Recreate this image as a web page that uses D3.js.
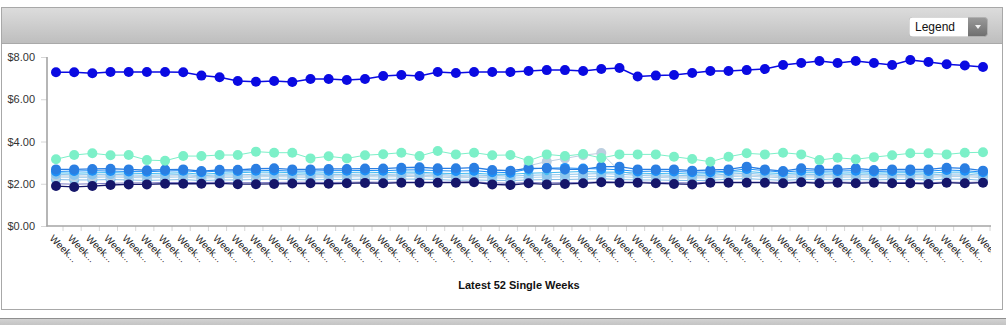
<!DOCTYPE html>
<html>
<head>
<meta charset="utf-8">
<script src="https://cdn.jsdelivr.net/npm/d3@7"></script>
<style>
  html, body { margin: 0; padding: 0; background: #fff; }
  svg { display: block; font-family: "Liberation Sans", Arial, sans-serif; }
</style>
</head>
<body>
<svg id="chart" width="1006" height="325"></svg>
<script>
// Weekly average price per product line, latest 52 single weeks
const weeks = d3.range(1, 53).map(i => `Week ${i}`);
const yTicks = [0, 2, 4, 6, 8];

const premium = [7.28,7.28,7.23,7.29,7.29,7.29,7.29,7.28,7.12,7.04,
  6.86,6.83,6.86,6.82,6.96,6.96,6.91,6.96,7.10,7.15,
  7.10,7.29,7.24,7.29,7.29,7.29,7.34,7.38,7.38,7.34,
  7.43,7.48,7.08,7.12,7.15,7.24,7.34,7.34,7.38,7.43,
  7.62,7.72,7.81,7.72,7.81,7.72,7.62,7.86,7.76,7.66,
  7.60,7.53];
const aqua = [3.16,3.36,3.44,3.35,3.36,3.12,3.09,3.31,3.31,3.36,
  3.36,3.52,3.47,3.47,3.20,3.30,3.20,3.35,3.40,3.47,
  3.31,3.55,3.39,3.47,3.35,3.36,3.09,3.39,3.31,3.41,
  3.22,3.39,3.39,3.39,3.28,3.17,3.04,3.28,3.44,3.39,
  3.47,3.39,3.12,3.23,3.16,3.26,3.35,3.44,3.44,3.39,
  3.47,3.49];
const dodger = [2.68,2.68,2.70,2.71,2.68,2.64,2.67,2.68,2.60,2.66,
  2.66,2.71,2.73,2.68,2.68,2.70,2.70,2.72,2.72,2.76,
  2.78,2.73,2.73,2.76,2.65,2.62,2.73,2.73,2.68,2.68,
  2.81,2.81,2.68,2.68,2.68,2.62,2.65,2.68,2.81,2.68,
  2.60,2.73,2.68,2.68,2.73,2.65,2.68,2.68,2.68,2.76,
  2.73,2.62];
const azure = [2.58,2.60,2.62,2.60,2.58,2.57,2.60,2.62,2.55,2.60,
  2.60,2.62,2.63,2.60,2.60,2.62,2.62,2.63,2.62,2.65,
  2.66,2.62,2.60,2.62,2.55,2.52,2.70,2.74,2.75,2.72,
  2.70,2.66,2.58,2.60,2.58,2.55,2.55,2.60,2.70,2.62,
  2.55,2.62,2.60,2.60,2.62,2.58,2.60,2.60,2.60,2.65,
  2.62,2.55];
const cyan = [2.52,2.50,2.52,2.53,2.50,2.48,2.50,2.52,2.45,2.50,
  2.52,2.55,2.55,2.52,2.50,2.52,2.53,2.55,2.52,2.55,
  2.55,2.50,2.48,2.50,2.45,2.45,2.50,2.52,2.55,2.58,
  2.55,2.55,2.50,2.48,2.50,2.45,2.48,2.55,2.58,2.52,
  2.48,2.52,2.52,2.50,2.52,2.50,2.52,2.52,2.50,2.55,
  2.55,2.48];
const sky = [2.45,2.42,2.44,2.45,2.42,2.40,2.42,2.44,2.38,2.42,
  2.42,2.45,2.46,2.44,2.42,2.44,2.44,2.46,2.44,2.46,
  2.48,2.44,2.40,2.42,2.38,2.36,2.40,2.42,2.44,2.46,
  2.48,2.45,2.40,2.42,2.40,2.38,2.40,2.46,2.50,2.44,
  2.40,2.44,2.44,2.42,2.44,2.42,2.44,2.44,2.42,2.46,
  2.46,2.40];
const steel = [2.38,2.36,2.36,2.38,2.36,2.34,2.36,2.38,2.32,2.36,
  2.36,2.38,2.40,2.38,2.36,2.38,2.38,2.40,2.38,2.40,
  2.40,2.38,2.34,2.36,2.36,2.45,2.85,3.05,3.20,3.35,
  3.45,2.60,2.40,2.36,2.34,2.32,2.34,2.40,2.42,2.38,
  2.34,2.38,2.38,2.36,2.38,2.36,2.38,2.38,2.36,2.40,
  2.40,2.34];
const pale = [2.32,2.30,2.30,2.32,2.30,2.28,2.30,2.32,2.26,2.30,
  2.30,2.33,2.34,2.32,2.30,2.32,2.32,2.34,2.32,2.34,
  2.35,2.32,2.28,2.30,2.28,2.26,2.30,2.32,2.33,2.34,
  2.36,2.33,2.30,2.30,2.28,2.27,2.28,2.34,2.36,2.32,
  2.28,2.32,2.32,2.30,2.32,2.30,2.32,2.32,2.30,2.34,
  2.34,2.28];
const powder = [2.20,2.18,2.18,2.20,2.18,2.16,2.18,2.20,2.15,2.18,
  2.18,2.20,2.22,2.20,2.18,2.20,2.20,2.22,2.20,2.22,
  2.22,2.20,2.16,2.18,2.16,2.15,2.18,2.20,2.20,2.22,
  2.24,2.20,2.18,2.18,2.16,2.15,2.16,2.22,2.24,2.20,
  2.16,2.20,2.20,2.18,2.20,2.18,2.20,2.20,2.18,2.22,
  2.22,2.16];
const slate = [2.00,1.98,2.00,2.02,2.04,2.04,2.06,2.06,2.06,2.07,
  2.05,2.05,2.06,2.07,2.07,2.06,2.07,2.08,2.07,2.08,
  2.08,2.08,2.08,2.09,2.04,2.02,2.06,2.04,2.05,2.06,
  2.09,2.08,2.08,2.06,2.05,2.04,2.08,2.08,2.08,2.08,
  2.06,2.09,2.06,2.08,2.06,2.08,2.06,2.06,2.05,2.08,
  2.06,2.08];
const navy = [1.89,1.85,1.89,1.94,1.97,1.97,2.00,2.00,2.00,2.02,
  1.98,1.98,1.99,2.01,2.02,2.00,2.02,2.04,2.02,2.05,
  2.05,2.05,2.05,2.07,1.97,1.94,2.02,1.97,1.99,2.02,
  2.07,2.05,2.05,2.02,1.99,1.97,2.05,2.05,2.05,2.05,
  2.02,2.07,2.02,2.05,2.02,2.05,2.02,2.02,1.99,2.05,
  2.02,2.05];

// drawing order: back to front
const series = [
  { values: slate,   color: "#7a7ac4", r: 2.5, w: 1 },
  { values: powder,  color: "#82bce6", r: 5,   w: 1 },
  { values: pale,    color: "#a9d1ee", r: 5,   w: 1 },
  { values: steel,   color: "#bccfe0", r: 5,   w: 1 },
  { values: sky,     color: "#8cc6ee", r: 5,   w: 1 },
  { values: cyan,    color: "#45bdf2", r: 2.5, w: 1 },
  { values: azure,   color: "#1e90f8", r: 5,   w: 1 },
  { values: dodger,  color: "#2a7ee2", r: 5,   w: 1.3 },
  { values: navy,    color: "#15166a", r: 5,   w: 1.3 },
  { values: aqua,    color: "#7cf0c8", r: 5,   w: 1 },
  { values: premium, color: "#0a0ae2", r: 5,   w: 1.5 }
];

const svg = d3.select("#chart");
const defs = svg.append("defs");

// panel chrome
const hdr = defs.append("linearGradient").attr("id", "hdr").attr("x1", 0).attr("y1", 0).attr("x2", 0).attr("y2", 1);
hdr.append("stop").attr("offset", "0%").attr("stop-color", "#dcdcdc");
hdr.append("stop").attr("offset", "100%").attr("stop-color", "#bdbdbd");
const btn = defs.append("linearGradient").attr("id", "btn").attr("x1", 0).attr("y1", 0).attr("x2", 0).attr("y2", 1);
btn.append("stop").attr("offset", "0%").attr("stop-color", "#9a9a9a");
btn.append("stop").attr("offset", "100%").attr("stop-color", "#6e6e6e");
const foot = defs.append("linearGradient").attr("id", "foot").attr("x1", 0).attr("y1", 0).attr("x2", 0).attr("y2", 1);
foot.append("stop").attr("offset", "0%").attr("stop-color", "#d4d4d4");
foot.append("stop").attr("offset", "100%").attr("stop-color", "#c4c4c4");

svg.append("rect").attr("x", 1.5).attr("y", 7.5).attr("width", 1001).attr("height", 302)
  .attr("fill", "#fff").attr("stroke", "#a8a8a8");
svg.append("rect").attr("x", 2).attr("y", 8).attr("width", 1000).attr("height", 36).attr("fill", "url(#hdr)");
svg.append("line").attr("x1", 2).attr("x2", 1002).attr("y1", 43.5).attr("y2", 43.5).attr("stroke", "#a9a9a9");
svg.append("rect").attr("x", 0).attr("y", 318).attr("width", 1006).attr("height", 7).attr("fill", "url(#foot)");
svg.append("line").attr("x1", 0).attr("x2", 1006).attr("y1", 318.5).attr("y2", 318.5).attr("stroke", "#8f8f8f");

// legend dropdown
const lg = svg.append("g");
lg.append("rect").attr("x", 909.5).attr("y", 17.5).attr("width", 78).attr("height", 19).attr("rx", 3)
  .attr("fill", "url(#btn)").attr("stroke", "#b0b0b0");
lg.append("path").attr("d", "M912.5,17.5 H968 V36.5 H912.5 a3,3 0 0 1 -3,-3 V20.5 a3,3 0 0 1 3,-3 Z")
  .attr("fill", "#fff");
lg.append("text").attr("x", 915).attr("y", 31).attr("font-size", 12).attr("fill", "#111").text("Legend");
lg.append("path").attr("d", "M975,25 L981,25 L978,29 Z").attr("fill", "#f2f2f2");

// scales
const x = d3.scalePoint().domain(weeks).range([56, 983]);
const y = d3.scaleLinear().domain([0, 8]).range([226, 57]);

// axes
const axisColor = "#a4a4a4";
const yAxis = svg.append("g").attr("transform", "translate(47,0)")
  .call(d3.axisLeft(y).tickValues(yTicks).tickSize(6).tickPadding(6).tickFormat(d3.format("$.2f")));
yAxis.select(".domain").remove();
yAxis.selectAll(".tick line").attr("stroke", "#d6d6d6");
yAxis.selectAll(".tick text").attr("font-size", 11).attr("fill", "#333").attr("font-family", "Liberation Sans, Arial, sans-serif");

const clip = defs.append("clipPath").attr("id", "xclip");
clip.append("rect").attr("x", 41).attr("y", 226).attr("width", 950).attr("height", 60);

const xAxis = svg.append("g").attr("clip-path", "url(#xclip)");
xAxis.selectAll("line.xt").data(weeks).join("line").attr("class", "xt")
  .attr("x1", d => x(d) + 7).attr("x2", d => x(d) + 7)
  .attr("y1", 226).attr("y2", 231).attr("stroke", "#d6d6d6");
xAxis.selectAll("text").data(weeks).join("text")
  .attr("transform", d => `translate(${x(d) - 7},239) rotate(45)`)
  .attr("font-size", 10).attr("fill", "#222")
  .text(d => d.slice(0, 4) + "...");

svg.append("line").attr("x1", 47).attr("x2", 47).attr("y1", 57).attr("y2", 226.5)
  .attr("stroke", axisColor).attr("stroke-width", 1.6);
svg.append("line").attr("x1", 46.5).attr("x2", 991).attr("y1", 226).attr("y2", 226)
  .attr("stroke", axisColor).attr("stroke-width", 1.6);

// series
const line = d3.line().x((d, i) => x(weeks[i])).y(d => y(d));
const plot = svg.append("g");
series.forEach(s => {
  const g = plot.append("g");
  g.append("path").attr("d", line(s.values)).attr("fill", "none")
    .attr("stroke", s.color).attr("stroke-width", s.w);
  g.selectAll("circle").data(s.values).join("circle")
    .attr("cx", (d, i) => x(weeks[i])).attr("cy", d => y(d)).attr("r", s.r)
    .attr("fill", s.color);
});

// axis title
svg.append("text").attr("x", 519).attr("y", 289).attr("text-anchor", "middle")
  .attr("font-size", 11).attr("font-weight", "bold").attr("fill", "#111")
  .text("Latest 52 Single Weeks");
</script>
</body>
</html>
